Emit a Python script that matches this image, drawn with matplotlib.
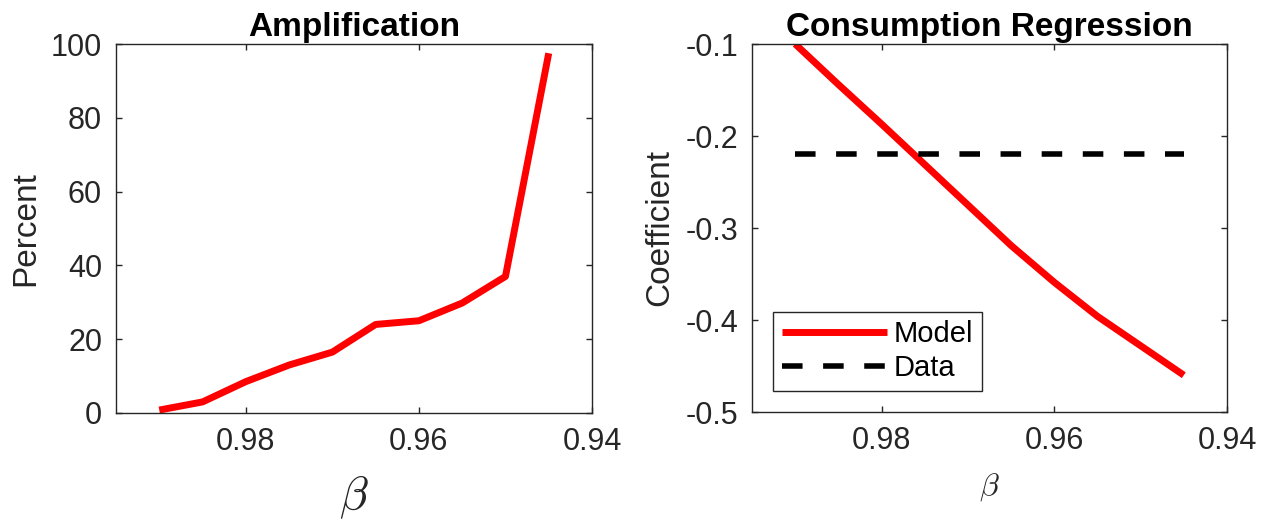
import numpy as np
import matplotlib
matplotlib.use("Agg")
import matplotlib.pyplot as plt

plt.rcParams['font.family'] = ['Liberation Sans', 'DejaVu Sans']
plt.rcParams['mathtext.fontset'] = 'cm'

# discount factor grid
beta = [0.990, 0.985, 0.980, 0.975, 0.970, 0.965, 0.960, 0.955, 0.950, 0.945]
# amplification (percent)
amplification = [0.8, 3.0, 8.5, 13.0, 16.5, 24.0, 25.0, 29.8, 37.0, 97.5]
# consumption regression coefficient, model vs data
coef_model = [-0.100, -0.144, -0.187, -0.231, -0.275, -0.319, -0.359, -0.396, -0.428, -0.460]
coef_data = [-0.22] * len(beta)

xticks = [0.98, 0.96, 0.94]
amp_yticks = [0, 20, 40, 60, 80, 100]
coef_yticks = [-0.5, -0.4, -0.3, -0.2, -0.1]
coef_yticklabels = ['-0.5', '-0.4', '-0.3', '-0.2', '-0.1']

AX = '#262626'
W, H = 1266, 521
fig = plt.figure(figsize=(W / 100, H / 100), dpi=100)


def frame(x0, y0, x1, y1):
    return fig.add_axes([x0 / W, 1 - y1 / H, (x1 - x0) / W, (y1 - y0) / H])


def style(ax):
    for s in ax.spines.values():
        s.set_color(AX)
        s.set_linewidth(1.0)
    ax.tick_params(direction='in', length=4.5, width=1.0, color=AX,
                   labelcolor=AX, labelsize=22, pad=10,
                   top=True, right=True)


ax1 = frame(116, 44, 592, 413)
ax1.plot(beta, amplification, color='#ff0000', lw=5, solid_capstyle='butt')
ax1.set_xlim(0.995, 0.94)
ax1.set_ylim(0, 100)
ax1.set_xticks(xticks)
ax1.set_xticklabels(['0.98', '0.96', '0.94'])
ax1.set_yticks(amp_yticks)
style(ax1)
ax1.set_title('Amplification', fontsize=24, fontweight='bold', pad=6)
ax1.set_ylabel('Percent', fontsize=24, color=AX, labelpad=7)
ax1.set_xlabel(r'$\beta$', fontsize=34, color=AX, labelpad=12)

ax2 = frame(752, 44, 1227, 412)
ax2.plot(beta, coef_model, color='#ff0000', lw=5, solid_capstyle='butt', label='Model')
ax2.plot(beta, coef_data, color='black', lw=4, dashes=(3.7, 3.7), label='Data')
ax2.set_xlim(0.995, 0.94)
ax2.set_ylim(-0.5, -0.1)
ax2.set_xticks(xticks)
ax2.set_xticklabels(['0.98', '0.96', '0.94'])
ax2.set_yticks(coef_yticks)
ax2.set_yticklabels(coef_yticklabels)
style(ax2)
ax2.set_title('Consumption Regression', fontsize=24, fontweight='bold', pad=6)
ax2.set_ylabel('Coefficient', fontsize=24, color=AX, labelpad=7)
ax2.set_xlabel(r'$\beta$', fontsize=23, color=AX, labelpad=11)

leg = ax2.legend(loc='lower left', bbox_to_anchor=(21 / 475, 21 / 368),
                 borderaxespad=0, fontsize=21, handlelength=3.6,
                 handletextpad=0.25, borderpad=0.3, labelspacing=0.2,
                 fancybox=False, framealpha=1)
leg.get_frame().set_edgecolor(AX)
leg.get_frame().set_linewidth(1.0)

fig.savefig('out.png', dpi=100)
